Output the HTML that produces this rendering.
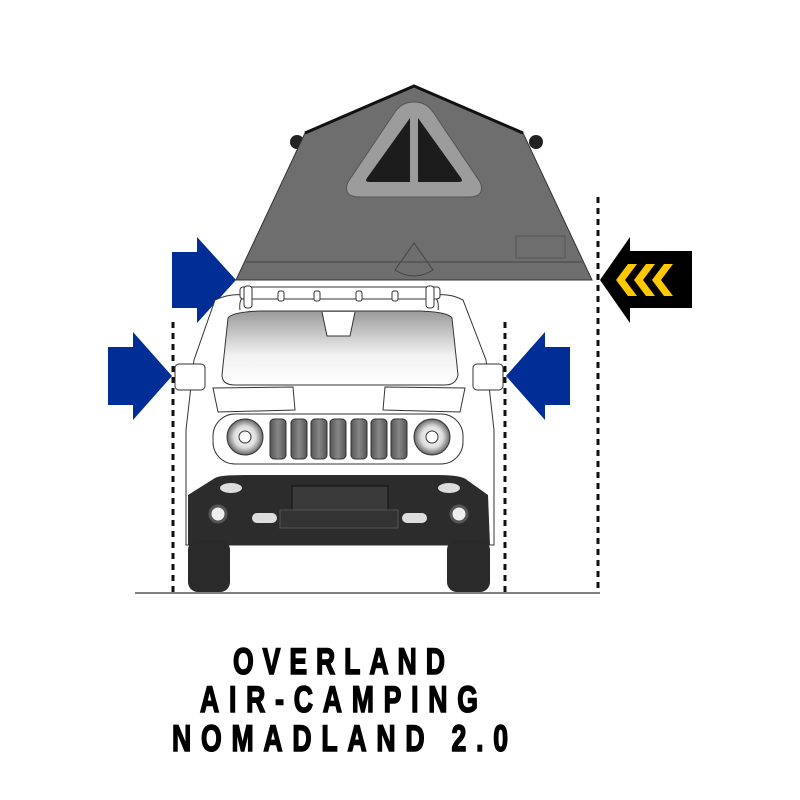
<!DOCTYPE html>
<html><head><meta charset="utf-8"><style>html,body{margin:0;padding:0;background:#fff}svg{display:block}</style></head>
<body>
<svg width="800" height="800" viewBox="0 0 800 800" xmlns="http://www.w3.org/2000/svg">
<defs>
<linearGradient id="ws" x1="0" y1="0" x2="0" y2="1"><stop offset="0" stop-color="#9a9a9a"/><stop offset="0.6" stop-color="#f2f2f2"/><stop offset="1" stop-color="#fff"/></linearGradient>
<linearGradient id="sl" x1="0" y1="0" x2="1" y2="0"><stop offset="0" stop-color="#555"/><stop offset="0.5" stop-color="#888"/><stop offset="1" stop-color="#555"/></linearGradient>
<radialGradient id="hl"><stop offset="0" stop-color="#fff"/><stop offset="0.6" stop-color="#ddd"/><stop offset="1" stop-color="#666"/></radialGradient>
</defs>
<!-- tent -->
<circle cx="297" cy="142" r="7" fill="#222"/><circle cx="536" cy="142" r="7" fill="#222"/>
<polygon points="414,86 305,133 236,280 592,280 523,133" fill="#6e6e6e" stroke="#333" stroke-width="1"/>
<polyline points="305,133 414,86 523,133" fill="none" stroke="#111" stroke-width="3"/>
<line x1="246" y1="262" x2="582" y2="262" stroke="#444" stroke-width="1"/>
<rect x="516" y="236" width="49" height="22" fill="none" stroke="#555"/>
<path d="M414,243 L395,270 Q414,282 433,270 Z" fill="none" stroke="#444"/>
<path d="M414,102 Q402,102 395,112 L348,182 Q342,197 360,197 L468,197 Q486,197 480,182 L433,112 Q426,102 414,102Z" fill="#9c9c9c" stroke="#555"/>
<path d="M410,118 L367,178 Q364,182 370,182 L410,182Z" fill="#1c1c1c"/>
<path d="M418,118 L461,178 Q464,182 458,182 L418,182Z" fill="#1c1c1c"/>
<!-- dotted lines -->
<g stroke="#111" stroke-width="3" stroke-dasharray="6,5">
<line x1="173" y1="322" x2="173" y2="592"/><line x1="505" y1="322" x2="505" y2="592"/><line x1="598" y1="197" x2="598" y2="592"/></g>
<line x1="135" y1="593" x2="600" y2="593" stroke="#555" stroke-width="1.5"/>
<!-- arrows -->
<polygon points="172,252 197,252 197,237 236,280 197,323 197,308 172,308" fill="#002d96"/>
<polygon points="108,347 133,347 133,332 172,376 133,420 133,405 108,405" fill="#002d96"/>
<polygon points="570,347 545,347 545,332 506,376 545,420 545,405 570,405" fill="#002d96"/>
<polygon points="692,251 630,251 630,237 600,280 630,323 630,308 692,308" fill="#000"/>
<g fill="#ffc800"><polygon points="628,264 637,264 625,280 637,296 628,296 616,280"/><polygon points="646,264 655,264 643,280 655,296 646,296 634,280"/><polygon points="664,264 673,264 661,280 673,296 664,296 652,280"/></g>
<!-- car -->
<g stroke="#333" stroke-width="1" fill="#fff">
<path d="M215,300 Q232,292 250,296 L430,296 Q448,292 463,300 L486,360 L494,430 L494,545 L186,545 L186,430 L194,360Z"/>
<path d="M240,310 Q238,296 250,294 L428,294 Q440,296 438,310" fill="none"/>
<rect x="240" y="287" width="200" height="12" rx="3"/>
<rect x="244" y="286" width="8" height="22" rx="3"/><rect x="426" y="286" width="8" height="22" rx="3"/>
<rect x="278" y="291" width="6" height="10" rx="2"/><rect x="314" y="291" width="6" height="10" rx="2"/><rect x="356" y="291" width="6" height="10" rx="2"/><rect x="392" y="291" width="6" height="10" rx="2"/>
<path d="M228,318 Q232,312 260,311 L420,311 Q448,312 452,318 L458,375 Q456,385 445,385 L235,385 Q222,385 222,375Z" fill="url(#ws)"/>
<path d="M322,312 L327,336 L350,336 L355,312" fill="#fff"/>
<rect x="175" y="364" width="30" height="26" rx="4"/><rect x="473" y="364" width="30" height="26" rx="4"/>
<path d="M213,388 L293,387 L295,410 L218,412Z"/><path d="M385,387 L465,388 L460,412 L383,410Z"/>
<rect x="213" y="414" width="250" height="50" rx="22"/>
<circle cx="245" cy="437" r="18" fill="url(#hl)"/><circle cx="432" cy="437" r="18" fill="url(#hl)"/>
<circle cx="245" cy="437" r="6"/><circle cx="432" cy="437" r="6"/>
</g>
<g fill="url(#sl)" stroke="#333"><rect x="270" y="419" width="16" height="40" rx="4"/><rect x="291" y="419" width="16" height="40" rx="4"/><rect x="311" y="419" width="16" height="40" rx="4"/><rect x="330" y="419" width="16" height="40" rx="4"/><rect x="351" y="419" width="16" height="40" rx="4"/><rect x="371" y="419" width="16" height="40" rx="4"/><rect x="391" y="419" width="16" height="40" rx="4"/></g>
<path d="M215,478 Q220,475 245,475 L438,475 Q462,475 467,480 L488,495 L490,545 L188,545 L188,495Z" fill="#2c2c2c"/>
<rect x="188" y="540" width="42" height="52" rx="10" fill="#2a2a2a"/><rect x="447" y="540" width="43" height="52" rx="10" fill="#2a2a2a"/>
<rect x="292" y="486" width="96" height="24" fill="#3a3a3a" stroke="#111"/>
<ellipse cx="231" cy="488" rx="11" ry="5" fill="#ddd"/><ellipse cx="449" cy="488" rx="11" ry="5" fill="#ddd"/>
<circle cx="218" cy="514" r="8" fill="#eee" stroke="#555" stroke-width="3"/><circle cx="459" cy="514" r="8" fill="#eee" stroke="#555" stroke-width="3"/>
<rect x="252" y="513" width="25" height="10" rx="5" fill="#ddd"/><rect x="402" y="513" width="25" height="10" rx="5" fill="#ddd"/>
<rect x="280" y="510" width="118" height="18" fill="#333" stroke="#555"/>
<!-- text -->
<g transform="scale(0.72,1)" font-family="Liberation Sans, sans-serif" font-weight="bold" font-size="37" fill="#000" stroke="#000" stroke-width="1.6">
<text x="323.6" y="674" textLength="294.4" lengthAdjust="spacing">OVERLAND</text>
<text x="277.8" y="712" textLength="386.1" lengthAdjust="spacing">AIR-CAMPING</text>
<text x="238.9" y="751" textLength="466.7" lengthAdjust="spacing">NOMADLAND 2.0</text>
</g>
</svg>
</body></html>
